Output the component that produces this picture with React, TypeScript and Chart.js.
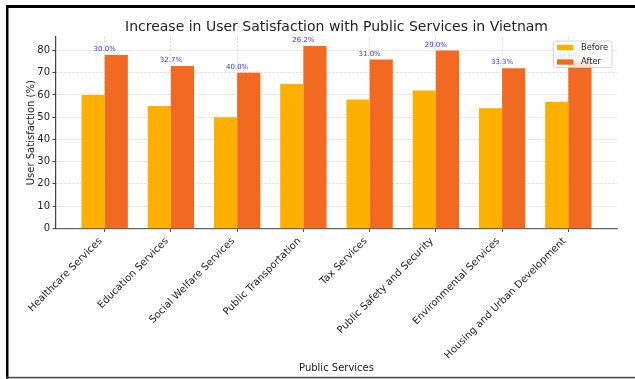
import React, { useEffect, useRef } from 'react';
import { Chart, registerables } from 'chart.js';

Chart.register(...registerables);

// ---- data ----
const categories = [
  'Healthcare Services',
  'Education Services',
  'Social Welfare Services',
  'Public Transportation',
  'Tax Services',
  'Public Safety and Security',
  'Environmental Services',
  'Housing and Urban Development',
];
const beforeValues = [60, 55, 50, 65, 58, 62, 54, 57];
const afterValues = [78, 73, 70, 82, 76, 80, 72, 75];
const increaseLabels = ['30.0%', '32.7%', '40.0%', '26.2%', '31.0%', '29.0%', '33.3%', '31.6%'];
const seriesNames = ['Before', 'After'];
const yTickValues = [0, 10, 20, 30, 40, 50, 60, 70, 80];

// ---- styles ----
const FONT = '"DejaVu Sans", Verdana, sans-serif';
const COLORS = ['#FDB000', '#F26A22'];
const TEXT = '#222222';
const GRID = '#d9d9d9';
const W = 635;
const H = 379;

const annotationPlugin = {
  id: 'increaseLabels',
  afterDatasetsDraw(chart: any) {
    const { ctx, scales } = chart;
    ctx.save();
    ctx.font = `7px ${FONT}`;
    ctx.fillStyle = '#3434f0';
    ctx.textAlign = 'center';
    ctx.textBaseline = 'bottom';
    increaseLabels.forEach((t, i) => {
      ctx.fillText(t, scales.x.getPixelForValue(i), scales.y.getPixelForValue(afterValues[i] + 1));
    });
    ctx.restore();
  },
};

const legendPlugin = {
  id: 'boxLegend',
  afterDraw(chart: any) {
    const { ctx, chartArea } = chart;
    const right = chartArea.right - 5;
    const top = chartArea.top + 4;
    const w = 58.5;
    const h = 26.5;
    const left = right - w;
    ctx.save();
    ctx.beginPath();
    if (ctx.roundRect) ctx.roundRect(left, top, w, h, 2.5);
    else ctx.rect(left, top, w, h);
    ctx.fillStyle = 'rgba(255,255,255,0.8)';
    ctx.fill();
    ctx.strokeStyle = 'rgba(204,204,204,0.8)';
    ctx.lineWidth = 1;
    ctx.stroke();
    ctx.font = `8.3px ${FONT}`;
    ctx.textAlign = 'left';
    ctx.textBaseline = 'middle';
    seriesNames.forEach((name, j) => {
      const cy = top + 6.5 + j * 14.5;
      ctx.fillStyle = COLORS[j];
      ctx.fillRect(left + 3.5, cy - 2.7, 16.5, 5.4);
      ctx.fillStyle = TEXT;
      ctx.fillText(name, left + 27.5, cy);
    });
    ctx.restore();
  },
};

const framePlugin = {
  id: 'frame',
  afterDraw(chart: any) {
    const { ctx } = chart;
    ctx.save();
    ctx.fillStyle = '#000000';
    ctx.fillRect(6, 5, W - 6, 3);
    ctx.fillRect(6, 5, 2.5, H - 5);
    ctx.fillStyle = '#4a4a4a';
    ctx.fillRect(6, 376.8, W - 6, 1.6);
    ctx.restore();
  },
};

export default function App() {
  const ref = useRef<HTMLCanvasElement | null>(null);

  useEffect(() => {
    if (!ref.current) return;
    const tickFont = { family: FONT, size: 10 };
    const chart = new Chart(ref.current, {
      type: 'bar',
      data: {
        datasets: seriesNames.map((name, s) => ({
          label: name,
          data: (s === 0 ? beforeValues : afterValues).map((v, i) => ({ x: i, y: v })),
          backgroundColor: COLORS[s],
          borderWidth: 0,
          categoryPercentage: 0.7,
          barPercentage: 1.0,
        })),
      },
      options: {
        responsive: false,
        animation: false,
        devicePixelRatio: 1,
        layout: { padding: { top: 0, right: 18, bottom: 0, left: 0 } },
        plugins: {
          legend: { display: false },
          tooltip: { enabled: false },
          title: {
            display: true,
            fullSize: false,
            text: 'Increase in User Satisfaction with Public Services in Vietnam',
            font: { family: FONT, size: 14, weight: 'normal' },
            color: TEXT,
            padding: { top: 19, bottom: 1.2 },
          },
        },
        scales: {
          x: {
            type: 'linear',
            min: -0.735,
            max: 7.735,
            offset: false,
            afterBuildTicks: (s: any) => {
              s.ticks = categories.map((_, i) => ({ value: i }));
            },
            afterFit: (s: any) => {
              s.height = 150.7;
            },
            ticks: {
              autoSkip: false,
              maxRotation: 45,
              minRotation: 45,
              font: tickFont,
              color: TEXT,
              padding: 3.5,
              labelOffset: -4,
              callback: (v: any) => categories[v] ?? '',
            },
            grid: {
              display: true,
              offset: false,
              color: GRID,
              lineWidth: 0.8,
              drawTicks: true,
              tickLength: 3.5,
              tickColor: '#444444',
              tickWidth: 1,
              tickBorderDash: [],
            },
            border: { display: true, color: '#666666', width: 1.2, dash: [2.5, 1.5] },
            title: {
              display: true,
              text: 'Public Services',
              font: tickFont,
              color: TEXT,
              padding: { top: 0, bottom: 5 },
            },
          },
          y: {
            type: 'linear',
            min: 0,
            max: 86.1,
            afterBuildTicks: (s: any) => {
              s.ticks = yTickValues.map((v) => ({ value: v }));
            },
            afterFit: (s: any) => {
              s.width = 56;
            },
            ticks: { font: tickFont, color: TEXT, padding: 2.5 },
            grid: {
              display: true,
              color: GRID,
              lineWidth: 0.8,
              drawTicks: true,
              tickLength: 3.5,
              tickColor: '#444444',
              tickWidth: 1,
              tickBorderDash: [],
            },
            border: { display: true, color: '#444444', width: 1.2, dash: [2.5, 1.5] },
            title: {
              display: true,
              text: 'User Satisfaction (%)',
              font: tickFont,
              color: TEXT,
              padding: { top: 25, bottom: 0 },
            },
          },
        },
      } as any,
      plugins: [annotationPlugin, legendPlugin, framePlugin],
    });
    return () => chart.destroy();
  }, []);

  return (
    <div style={{ position: 'fixed', left: 0, top: 0, width: W, height: H, background: '#ffffff' }}>
      <canvas ref={ref} width={W} height={H} style={{ display: 'block', width: W, height: H }} />
    </div>
  );
}
